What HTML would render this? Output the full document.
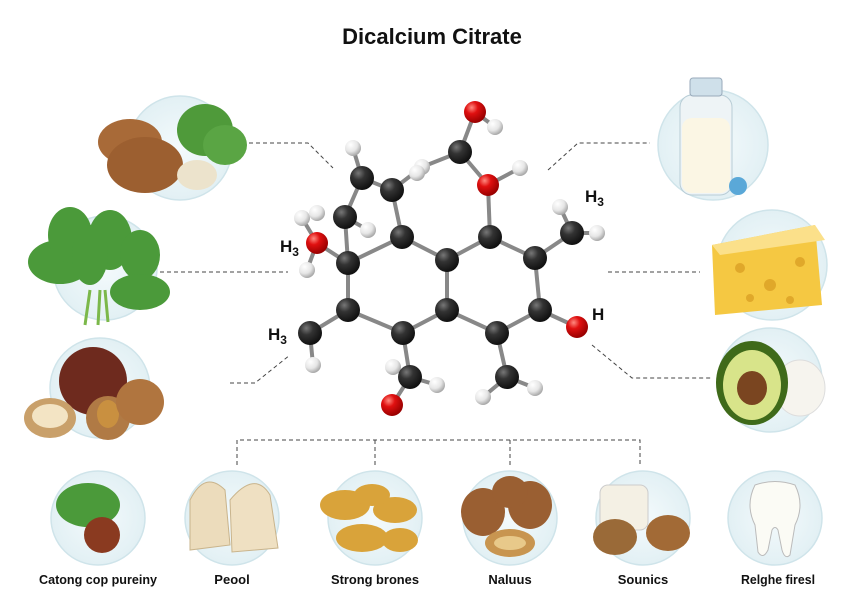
<!DOCTYPE html>
<html><head><meta charset="utf-8"><style>
html,body{margin:0;padding:0;background:#fff;width:860px;height:602px;overflow:hidden}
svg{display:block}
text{font-family:"Liberation Sans",sans-serif;fill:#111}
</style></head><body>
<svg width="860" height="602" viewBox="0 0 860 602">
<defs>
<radialGradient id="dk" cx="35%" cy="30%" r="70%"><stop offset="0" stop-color="#777"/><stop offset=".4" stop-color="#333"/><stop offset="1" stop-color="#111"/></radialGradient>
<radialGradient id="rd" cx="35%" cy="30%" r="70%"><stop offset="0" stop-color="#ff8a80"/><stop offset=".4" stop-color="#e01010"/><stop offset="1" stop-color="#900"/></radialGradient>
<radialGradient id="wh" cx="35%" cy="30%" r="70%"><stop offset="0" stop-color="#fff"/><stop offset=".6" stop-color="#e6e6e6"/><stop offset="1" stop-color="#aaa"/></radialGradient>
<radialGradient id="bg" cx="50%" cy="50%" r="50%"><stop offset="0" stop-color="#f4fafc"/><stop offset="1" stop-color="#e2f0f4"/></radialGradient>
</defs>
<text x="432" y="44" text-anchor="middle" font-size="22" font-weight="bold">Dicalcium Citrate</text>

<g stroke="#444" stroke-width="1" stroke-dasharray="4,3" fill="none">
<path d="M242 143 H308 L333 168"/>
<path d="M160 272 H288"/>
<path d="M230 383 H255 L290 355"/>
<path d="M548 170 L578 143 H650"/>
<path d="M608 272 H700"/>
<path d="M592 345 L632 378 H712"/>
<path d="M237 465 V440 H640 V465 M375 440 V465 M510 440 V465"/>
</g>

<g fill="url(#bg)" stroke="#cfe4ea" stroke-width="1.5">
<circle cx="180" cy="148" r="52"/><circle cx="105" cy="268" r="52"/><circle cx="100" cy="388" r="50"/>
<circle cx="713" cy="145" r="55"/><circle cx="772" cy="265" r="55"/><circle cx="770" cy="380" r="52"/>
<circle cx="98" cy="518" r="47"/><circle cx="232" cy="518" r="47"/><circle cx="375" cy="518" r="47"/>
<circle cx="510" cy="518" r="47"/><circle cx="643" cy="518" r="47"/><circle cx="775" cy="518" r="47"/>
</g>

<ellipse cx="205" cy="130" rx="28" ry="26" fill="#4f9a3a"/>
<ellipse cx="225" cy="145" rx="22" ry="20" fill="#5aa544"/>
<ellipse cx="130" cy="142" rx="32" ry="23" fill="#a86a38"/>
<ellipse cx="145" cy="165" rx="38" ry="28" fill="#9c5f30"/>
<ellipse cx="197" cy="175" rx="20" ry="15" fill="#ece3cc"/>
<g fill="#4b9a3a">
<ellipse cx="60" cy="262" rx="32" ry="22"/><ellipse cx="70" cy="235" rx="22" ry="28"/>
<ellipse cx="110" cy="240" rx="22" ry="30"/><ellipse cx="140" cy="255" rx="20" ry="25"/>
<ellipse cx="140" cy="292" rx="30" ry="18"/><ellipse cx="90" cy="255" rx="18" ry="30"/>
</g>
<path d="M90 290 L85 325 M100 290 L98 325 M105 290 L108 322" stroke="#7bb84a" stroke-width="3"/>
<circle cx="93" cy="381" r="34" fill="#6e2a1e"/>
<ellipse cx="50" cy="418" rx="26" ry="20" fill="#c9a06a"/><ellipse cx="50" cy="416" rx="18" ry="12" fill="#f3e4c4"/>
<ellipse cx="108" cy="418" rx="22" ry="22" fill="#b07a45"/><ellipse cx="108" cy="414" rx="11" ry="14" fill="#c99040"/>
<ellipse cx="140" cy="402" rx="24" ry="23" fill="#b0753f"/>

<rect x="680" y="95" width="52" height="100" rx="12" fill="#eef4f6" stroke="#b8cdd6"/>
<rect x="690" y="78" width="32" height="18" rx="3" fill="#cfe0ea" stroke="#9ab"/>
<rect x="682" y="118" width="48" height="75" rx="10" fill="#fbf6e4"/>
<circle cx="738" cy="186" r="9" fill="#5aa8d8"/>
<polygon points="712,245 815,225 822,305 715,315" fill="#f5c842"/>
<polygon points="712,245 815,225 825,240 720,255" fill="#fbe08a"/>
<g fill="#e0a82a"><circle cx="740" cy="268" r="5"/><circle cx="770" cy="285" r="6"/><circle cx="800" cy="262" r="5"/><circle cx="750" cy="298" r="4"/><circle cx="790" cy="300" r="4"/></g>
<ellipse cx="800" cy="388" rx="25" ry="28" fill="#f6f4ee" stroke="#ddd"/>
<ellipse cx="752" cy="383" rx="36" ry="42" fill="#3f6a1a"/>
<ellipse cx="752" cy="385" rx="29" ry="35" fill="#d8e48a"/>
<ellipse cx="752" cy="388" rx="15" ry="17" fill="#7a4520"/>

<ellipse cx="88" cy="505" rx="32" ry="22" fill="#4b9a3a"/>
<circle cx="102" cy="535" r="18" fill="#8a3a20"/>
<path d="M190 500 Q205 470 225 490 L230 545 L190 550 Z" fill="#ecdcbc" stroke="#c9b48c"/>
<path d="M230 500 Q255 470 270 495 L278 548 L232 552 Z" fill="#efe0c2" stroke="#c9b48c"/>
<g fill="#d9a33a"><ellipse cx="345" cy="505" rx="25" ry="15"/><ellipse cx="395" cy="510" rx="22" ry="13"/><ellipse cx="362" cy="538" rx="26" ry="14"/><ellipse cx="400" cy="540" rx="18" ry="12"/><ellipse cx="372" cy="495" rx="18" ry="11"/></g>
<g fill="#9a5f32"><ellipse cx="483" cy="512" rx="22" ry="24"/><ellipse cx="530" cy="505" rx="22" ry="24"/><ellipse cx="510" cy="492" rx="18" ry="16"/></g>
<ellipse cx="510" cy="543" rx="25" ry="14" fill="#c89550"/><ellipse cx="510" cy="543" rx="16" ry="7" fill="#e8c98a"/>
<rect x="600" y="485" width="48" height="45" rx="8" fill="#f4f0e4" stroke="#ccc"/>
<ellipse cx="615" cy="537" rx="22" ry="18" fill="#9a6a38"/>
<ellipse cx="668" cy="533" rx="22" ry="18" fill="#a26a36"/>
<path d="M755 485 Q775 478 795 485 Q805 505 795 525 L790 555 Q785 560 782 550 L778 530 Q775 525 772 530 L768 550 Q763 560 758 552 L755 525 Q745 505 755 485 Z" fill="#fbfbf5" stroke="#bbb"/>

<g font-size="13" font-weight="bold" text-anchor="middle">
<text x="98" y="584" textLength="118" lengthAdjust="spacingAndGlyphs">Catong cop pureiny</text>
<text x="232" y="584">Peool</text>
<text x="375" y="584" textLength="88" lengthAdjust="spacingAndGlyphs">Strong brones</text>
<text x="510" y="584">Naluus</text>
<text x="643" y="584">Sounics</text>
<text x="778" y="584" textLength="74" lengthAdjust="spacingAndGlyphs">Relghe firesl</text>
</g>

<g stroke="#888" stroke-width="4" stroke-linecap="round" fill="none">
<path d="M362 178 L392 190 L402 237 L447 260 L490 237 L535 258 L540 310 L497 333 L447 310 L403 333 L348 310 L348 263 L402 237"/>
<path d="M447 260 L447 310 M362 178 L345 217 L348 263 M392 190 L422 167 L460 152 L475 112 M460 152 L488 185 L490 237 M535 258 L572 233 M540 310 L577 327 M497 333 L507 377 M403 333 L410 377 L392 405 M348 310 L310 333 L313 365 M362 178 L353 148 M475 112 L495 127 M488 185 L520 168 M572 233 L560 207 M572 233 L597 233 M410 377 L437 385 M410 377 L393 367 M507 377 L483 397 M507 377 L535 388 M348 263 L317 243 L302 218 M317 243 L307 270 M345 217 L368 230"/>
</g>
<g fill="url(#wh)">
<circle cx="353" cy="148" r="8"/><circle cx="495" cy="127" r="8"/><circle cx="520" cy="168" r="8"/><circle cx="422" cy="167" r="8"/><circle cx="417" cy="173" r="8"/><circle cx="302" cy="218" r="8"/><circle cx="317" cy="213" r="8"/><circle cx="368" cy="230" r="8"/><circle cx="307" cy="270" r="8"/><circle cx="560" cy="207" r="8"/><circle cx="597" cy="233" r="8"/><circle cx="313" cy="365" r="8"/><circle cx="393" cy="367" r="8"/><circle cx="437" cy="385" r="8"/><circle cx="483" cy="397" r="8"/><circle cx="535" cy="388" r="8"/>
</g>
<g fill="url(#dk)">
<circle cx="362" cy="178" r="12"/><circle cx="392" cy="190" r="12"/><circle cx="345" cy="217" r="12"/><circle cx="402" cy="237" r="12"/><circle cx="348" cy="263" r="12"/><circle cx="447" cy="260" r="12"/><circle cx="490" cy="237" r="12"/><circle cx="535" cy="258" r="12"/><circle cx="572" cy="233" r="12"/><circle cx="540" cy="310" r="12"/><circle cx="447" cy="310" r="12"/><circle cx="497" cy="333" r="12"/><circle cx="403" cy="333" r="12"/><circle cx="348" cy="310" r="12"/><circle cx="310" cy="333" r="12"/><circle cx="410" cy="377" r="12"/><circle cx="507" cy="377" r="12"/><circle cx="460" cy="152" r="12"/>
</g>
<g fill="url(#rd)">
<circle cx="475" cy="112" r="11"/><circle cx="488" cy="185" r="11"/><circle cx="317" cy="243" r="11"/><circle cx="577" cy="327" r="11"/><circle cx="392" cy="405" r="11"/>
</g>
<g font-size="17" font-weight="bold">
<text x="280" y="252">H<tspan font-size="12" dy="4">3</tspan></text>
<text x="268" y="340">H<tspan font-size="12" dy="4">3</tspan></text>
<text x="585" y="202">H<tspan font-size="12" dy="4">3</tspan></text>
<text x="592" y="320">H</text>
</g>
</svg>
</body></html>
